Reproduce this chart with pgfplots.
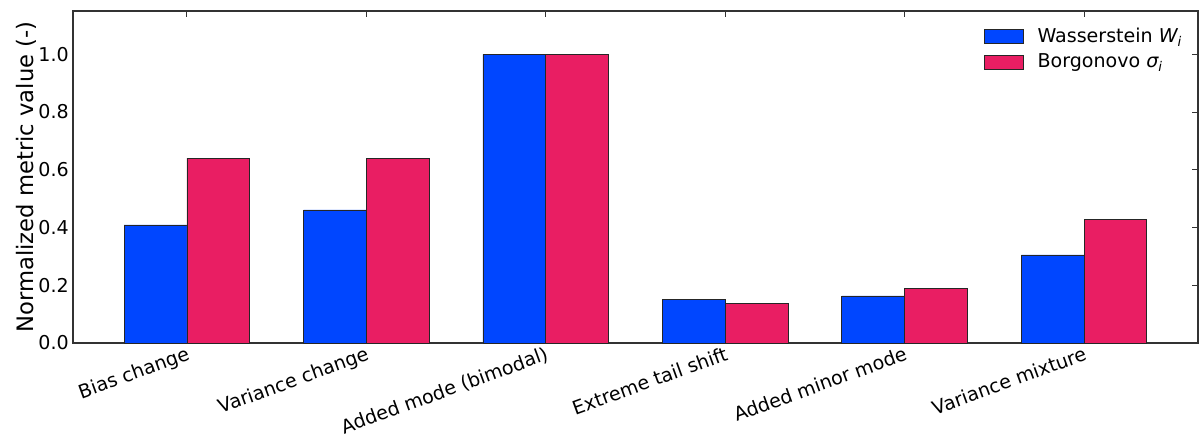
\documentclass[border=0pt]{standalone}
\usepackage{fontspec}
\setmainfont{DejaVu Sans}
\usepackage{pgfplots}
\pgfplotsset{compat=1.18}
\definecolor{wblue}{RGB}{0,70,255}
\definecolor{bred}{RGB}{233,30,99}
\begin{document}
\begin{tikzpicture}
\useasboundingbox (-54.75pt,-69.75pt) rectangle (846pt,257.25pt);
\begin{axis}[
  scale only axis,
  width=843.75pt, height=249pt,
  xmin=-0.635, xmax=5.635,
  ymin=0, ymax=1.15,
  ybar, bar width=0.35,
  xtick={0,1,2,3,4,5},
  xticklabels={Bias change,Variance change,Added mode (bimodal),Extreme tail shift,Added minor mode,Variance mixture},
  ytick={0,0.2,0.4,0.6,0.8,1.0},
  xtick pos=right, ytick pos=right,
  xticklabel pos=left, yticklabel pos=left,
  tick align=inside,
  major tick length=4.5pt,
  tick style={black!80, line width=0.8pt},
  axis line style={black!80, line width=0.8pt},
  font=\fontsize{14.3pt}{17pt}\selectfont,
  /pgf/number format/.cd, fixed, fixed zerofill, precision=1, assume math mode=true,
  /pgfplots/.cd,
  xticklabel style={rotate=20, anchor=north east, inner sep=1.5pt},
  yticklabel style={inner sep=3pt},
  ylabel={Normalized metric value (-)},
  ylabel style={at={(axis description cs:0,0.5)}, anchor=south, yshift=24pt, font=\fontsize{17pt}{20pt}\selectfont},
  legend style={at={(0.992,0.965)}, anchor=north east, draw=none, fill=none, row sep=3pt, column sep=8.5pt,
    font=\fontsize{14.3pt}{17pt}\selectfont},
  legend cell align=left,
  legend image code/.code={\draw[#1, line width=0.6pt] (0pt,-5.25pt) rectangle (29pt,5.25pt);},
]
\addplot[fill=wblue, draw=black!85, line width=0.6pt, bar shift=-0.175] coordinates {
  (0,0.409) (1,0.461) (2,1.0) (3,0.152) (4,0.163) (5,0.305)};
\addplot[fill=bred, draw=black!85, line width=0.6pt, bar shift=0.175] coordinates {
  (0,0.640) (1,0.640) (2,1.0) (3,0.138) (4,0.190) (5,0.429)};
\legend{Wasserstein {\itshape W\textsubscript{i}},Borgonovo {\itshape σ\textsubscript{i}}}
\end{axis}
\end{tikzpicture}
\end{document}
